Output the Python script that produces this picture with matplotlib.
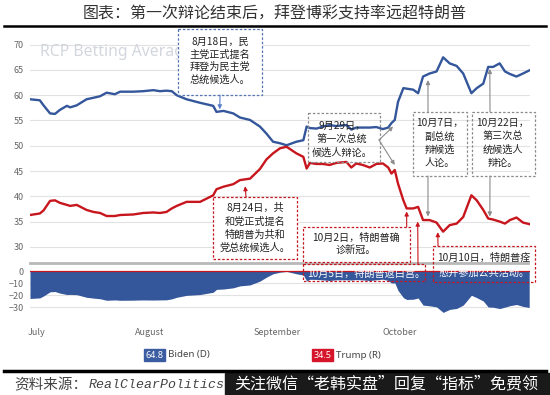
import matplotlib.pyplot as plt
from matplotlib.patches import Rectangle
import numpy as np

plt.rcParams['font.family'] = ['Noto Sans CJK SC', 'DejaVu Sans']

# Days since July 1
days = [1.7, 4.1, 5.0, 6.6, 7.8, 9.0, 10.7, 11.5, 13.1, 15.5, 17.2, 18.8,
        20.4, 22.4, 23.7, 26.9, 29.3, 31.8, 33.4, 35.0, 36.3, 37.5, 39.9,
        43.2, 46.4, 47.2, 48.9, 51.3, 52.9, 55.4, 57.8, 59.4, 61.0, 62.7,
        64.3, 66.7, 68.4, 69.2, 70.0, 71.6, 73.2, 74.8, 76.4, 78.9, 80.1,
        81.3, 82.9, 84.6, 86.2, 87.8, 89.1, 89.9, 90.7, 91.5, 92.8, 93.6,
        95.2, 96.4, 97.6, 99.2, 100.9, 102.5, 104.1, 105.8, 107.4, 109.4,
        110.7, 112.3, 113.5, 114.7, 116.3, 117.6, 118.8, 120.4, 122.0, 123.5]
biden = [59.2, 59.0, 58.0, 56.4, 56.3, 57.1, 57.9, 57.6, 58.0, 59.2, 59.5, 59.8,
         60.5, 60.2, 60.7, 60.7, 60.8, 61.0, 60.8, 60.9, 60.8, 60.0, 59.2,
         58.5, 57.9, 56.7, 56.9, 56.4, 55.6, 55.1, 53.8, 52.4, 50.8, 50.5,
         50.1, 50.8, 51.1, 53.8, 53.5, 53.4, 53.8, 54.1, 53.9, 54.1, 53.2,
         53.6, 53.6, 53.6, 53.7, 53.3, 53.6, 54.5, 55.1, 58.7, 61.4, 61.3,
         61.1, 60.4, 63.7, 64.3, 64.7, 67.5, 66.3, 65.8, 64.3, 60.4,
         61.4, 62.3, 65.6, 65.6, 66.3, 64.7, 64.2, 63.7, 64.3, 64.9]
trump = [36.3, 36.6, 37.2, 39.1, 39.2, 38.7, 38.3, 38.1, 38.3, 37.3, 36.9, 36.7,
         36.1, 36.1, 36.3, 36.4, 36.7, 36.8, 36.7, 36.9, 37.6, 38.1, 38.9,
         38.9, 40.2, 41.4, 41.9, 42.4, 43.2, 43.5, 45.4, 47.3, 48.5, 49.5,
         49.8, 48.5, 47.8, 45.5, 46.6, 46.4, 46.4, 46.2, 46.6, 46.8, 45.7,
         46.5, 46.2, 45.7, 46.4, 46.5, 45.7, 44.5, 45.2, 42.5, 39.2, 37.6,
         37.6, 37.9, 35.3, 35.3, 34.8, 33.0, 34.3, 34.6, 35.9, 40.2,
         39.2, 37.3, 35.6, 35.4, 35.0, 34.6, 35.3, 35.8, 34.8, 34.5]
latest_biden = '64.8'
latest_trump = '34.5'

month_days = [3.2, 31, 62, 92]
month_labels = ['July', 'August', 'September', 'October']
upper_ticks = [30, 35, 40, 45, 50, 55, 60, 65, 70]
lower_ticks = [0, -10, -20, -30]

title = '图表：第一次辩论结束后，拜登博彩支持率远超特朗普'

BLUE = '#34569a'
RED = '#c8161e'
W, H = 550, 395


def fig_box(left, top, right, bottom):
    '''Pixel box (from the top-left corner) to figure fractions.'''
    return [left / W, 1 - bottom / H, (right - left) / W, (bottom - top) / H]


def clean(axis):
    for s in axis.spines.values():
        s.set_visible(False)
    axis.tick_params(length=0, labelsize=6.5, labelcolor='#666666', pad=4.5)
    axis.grid(axis='y', color='#e2e2e2', lw=0.8)
    axis.set_axisbelow(True)


fig = plt.figure(figsize=(5.5, 3.95), dpi=100)

# upper chart: betting averages
ax = fig.add_axes(fig_box(30, 27, 530, 262))
ax.plot(days, biden, color=BLUE, lw=1.7)
ax.plot(days, trump, color=RED, lw=1.7)
ax.set_xlim(1.7, 123.7)
ax.set_ylim(27, 73.5)
ax.set_yticks(upper_ticks)
ax.set_xticks([])
clean(ax)

# lower chart: spread
low = fig.add_axes(fig_box(30, 263, 530, 313))
spread = np.array(trump) - np.array(biden)
low.fill_between(days, spread, 0, color=BLUE, lw=0, zorder=2)
low.axhline(0, color=RED, lw=0.9, zorder=3)
low.set_xlim(1.7, 123.7)
low.set_ylim(-35, 6.7)
low.set_yticks(lower_ticks)
low.set_xticks(month_days)
low.set_xticklabels(month_labels)
clean(low)
low.tick_params(axis='x', pad=11)

# overlay in pixel coordinates for the annotations
ov = fig.add_axes([0, 0, 1, 1])
ov.set_xlim(0, W)
ov.set_ylim(H, 0)
ov.axis('off')

ov.text(275, 14, title, ha='center', va='center', fontsize=11.5, color='#333333')
ov.plot([4, 546], [26, 26], color='black', lw=1.8)
ov.text(40, 52, 'RCP Betting Average', family='Noto Sans', fontsize=11.3,
        color='#d2d6dd', va='center')
ov.plot([30, 528], [263, 263], color='#b8b8b8', lw=2)


def note(left, top, right, bottom, color, lines, cx, y0, step=12.5,
         fill=None, text_color='#222222', ha='center'):
    ov.add_patch(Rectangle((left, top), right - left, bottom - top,
                           facecolor=fill if fill else 'none', edgecolor=color,
                           lw=0.9, ls=(0, (2, 1.5)), zorder=3))
    for i, line in enumerate(lines):
        c = text_color[i] if isinstance(text_color, list) else text_color
        ov.text(cx, y0 + i * step, line, ha=ha, va='center', fontsize=7.3,
                color=c, zorder=4)


def arrow(day, value, px, py, color):
    ov.annotate('', xy=(day, value), xycoords=ax.transData, xytext=(px, py),
                textcoords='data',
                arrowprops=dict(arrowstyle='-|>', color=color, lw=0.8,
                                mutation_scale=6, shrinkA=0, shrinkB=0))


GRAY = '#8c8c8c'
note(178, 29, 262, 95, '#5574b0', ['8月18日，民', '主党正式提名', '拜登为民主党',
                                    '总统候选人。'], 220, 42, fill='white')
arrow(48, 57.2, 220, 95, '#5b7fc8')

note(213, 197, 297, 259, RED, ['8月24日，共', '和党正式提名', '特朗普为共和',
                                '党总统候选人。'], 255, 208, step=13.3, fill='white')
arrow(54.2, 42.0, 246, 197, RED)

note(308, 113, 380, 162, GRAY, ['9月29日，', '第一次总统', '候选人辩论。'],
     342, 126, step=13.5)
arrow(90.3, 53.8, 379, 140, GRAY)
arrow(90.7, 46.2, 379, 140, GRAY)

note(413, 112, 467, 176, GRAY, ['10月7日，', '副总统', '辩候选', '人论。'],
     440, 123, step=13.3)
arrow(98.8, 63.0, 428, 112, GRAY)
arrow(98.8, 36.0, 428, 176, GRAY)

note(472, 112, 535, 176, GRAY, ['10月22日，', '第三次总', '统候选人', '辩论。'],
     503, 123, step=13.3)
arrow(113.9, 65.2, 490, 112, GRAY)
arrow(113.9, 36.0, 490, 176, GRAY)

note(303, 227, 410, 262, RED, ['10月2日，特朗普确', '诊新冠。'], 356, 238,
     fill='white')
arrow(93.6, 37.0, 406.7, 227, RED)

note(303, 264, 425, 281, RED, ['10月5日，特朗普返白宫。'], 307, 273.5,
     text_color='white', ha='left')
arrow(96.3, 35.0, 418, 264, RED)

note(433, 246, 535, 282, RED, ['10月10日，特朗普痊', '愈并参加公共活动。'], 484, 258,
     step=14.5, text_color=['#222222', 'white'])
arrow(101.2, 32.9, 438, 246, RED)

# legend
ov.add_patch(Rectangle((144, 349), 21, 12, color='#3b5ca0'))
ov.text(154.5, 355, latest_biden, color='white', fontsize=6.5, ha='center',
        va='center', family='Noto Sans')
ov.text(168, 355, 'Biden (D)', color='#444444', fontsize=7, va='center',
        family='Noto Sans')
ov.add_patch(Rectangle((312, 349), 21, 12, color='#d6152b'))
ov.text(322.5, 355, latest_trump, color='white', fontsize=6.5, ha='center',
        va='center', family='Noto Sans')
ov.text(336, 355, 'Trump (R)', color='#444444', fontsize=7, va='center',
        family='Noto Sans')

# footer
ov.plot([4, 546], [371, 371], color='black', lw=2.5)
ov.text(14, 385, '资料来源：', fontsize=10.5, color='#444444', va='center')
ov.text(89, 385, 'RealClearPolitics', family='Liberation Mono', style='italic',
        fontsize=9.5, color='#444444', va='center')
ov.add_patch(Rectangle((225, 373), 325, 22, color='#1a1a1a'))
ov.text(386, 384, '关注微信“老韩实盘”回复“指标”免费领', color='white',
        fontsize=11.5, ha='center', va='center')

fig.savefig('out.png', dpi=100)
